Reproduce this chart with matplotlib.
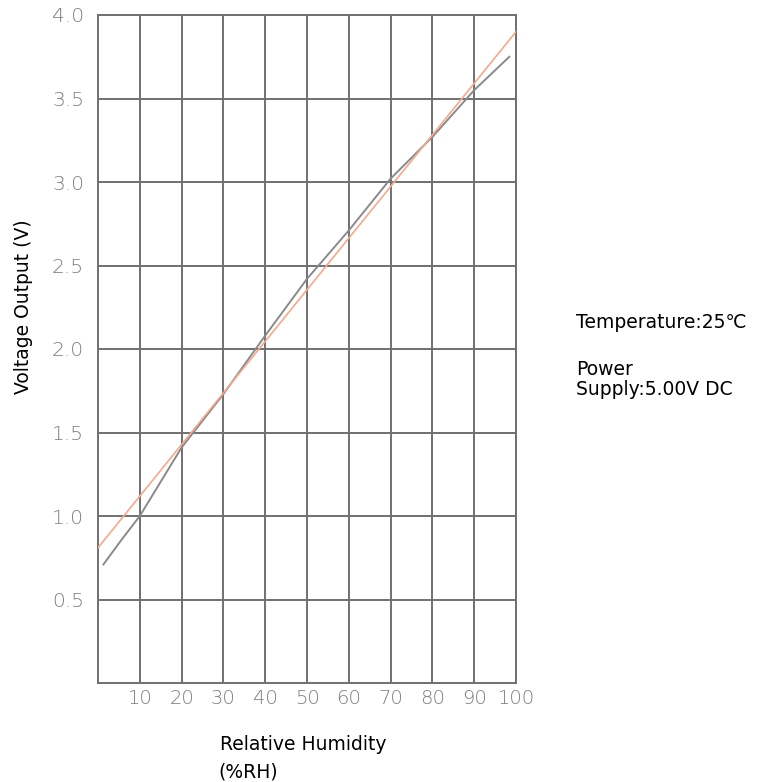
import matplotlib
matplotlib.use("Agg")
import matplotlib.pyplot as plt
import numpy as np

# humidity (%RH) vs voltage output
rh_measured = [1.3, 5.7, 10, 20, 30, 40, 50, 60, 70, 80, 90, 98.4]
volt_measured = [0.71, 0.86, 1.0, 1.41, 1.73, 2.08, 2.42, 2.71, 3.02, 3.27, 3.55, 3.75]

rh_fit = [0, 100]
volt_fit = [0.81, 3.90]

x_ticks = [10, 20, 30, 40, 50, 60, 70, 80, 90, 100]
y_ticks = [0.5, 1.0, 1.5, 2.0, 2.5, 3.0, 3.5, 4.0]

plt.rcParams['font.family'] = ['DejaVu Sans']

fig = plt.figure(figsize=(7.63, 7.82), dpi=100)
ax = fig.add_axes([98/763, 1 - 683/782, 418/763, 668/782])

grid_col = '#707070'
for xv in x_ticks:
    ax.axvline(xv, color=grid_col, lw=1.4, zorder=1)
for yv in y_ticks:
    ax.axhline(yv, color=grid_col, lw=1.4, zorder=1)

ax.plot(rh_fit, volt_fit, color='#f4a98f', lw=1.2, zorder=3)
ax.plot(rh_measured, volt_measured, color='#8a8a8a', lw=1.4, zorder=2)

ax.set_xlim(0, 100)
ax.set_ylim(0, 4.0)
ax.set_xticks(x_ticks)
ax.set_yticks(y_ticks)
ax.set_xticklabels([str(v) for v in x_ticks], color='#7c7c7c', fontsize=14, fontweight='light')
ax.set_yticklabels(['%.1f' % v for v in y_ticks], color='#7c7c7c', fontsize=14.5, fontweight='light')
ax.tick_params(axis='x', length=0, pad=4)
ax.tick_params(axis='y', length=0, pad=10)
for s in ax.spines.values():
    s.set_color(grid_col)
    s.set_linewidth(1.4)

fig.text(24/763, 1 - 307/782, 'Voltage Output (V)', rotation=90, ha='center', va='center', fontsize=13.5)
fig.text(220/763, 1 - 745/782, 'Relative Humidity', ha='left', va='center', fontsize=13.5)
fig.text(218/763, 1 - 772/782, '(%RH)', ha='left', va='center', fontsize=13.5)

fig.text(576/763, 1 - 322/782, 'Temperature:25\u2103', ha='left', va='center', fontsize=13.5)
fig.text(576/763, 1 - 369/782, 'Power', ha='left', va='center', fontsize=13.5)
fig.text(576/763, 1 - 389/782, 'Supply:5.00V DC', ha='left', va='center', fontsize=13.5)

fig.savefig('out.png', dpi=100)
